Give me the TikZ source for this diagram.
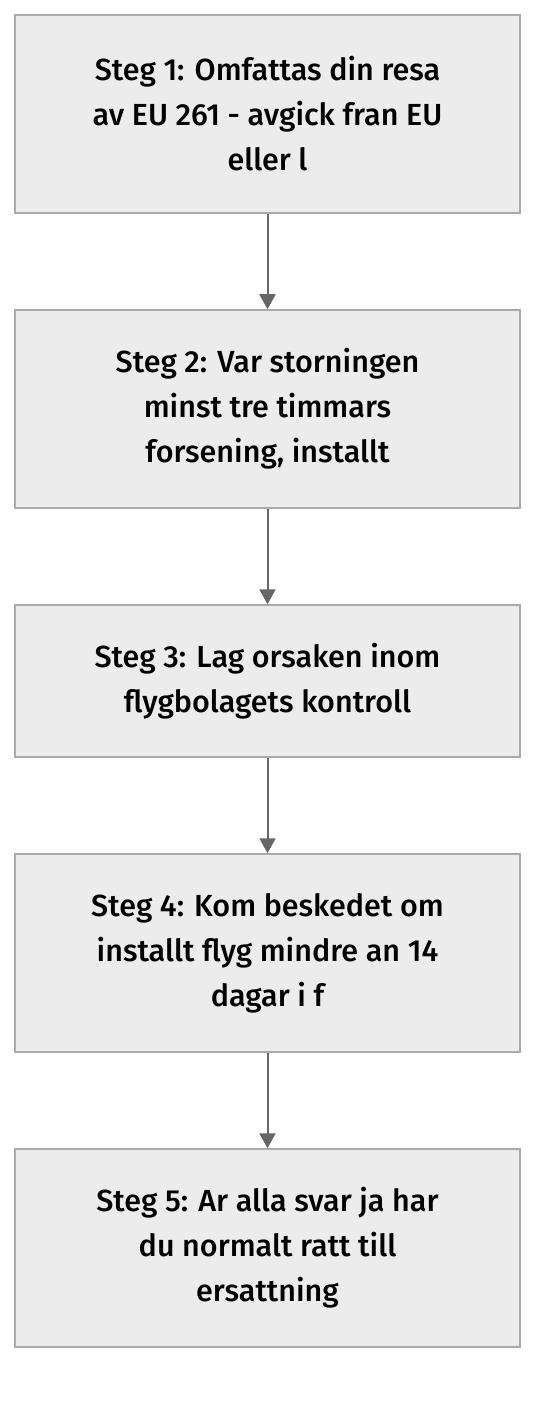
\documentclass[tikz,border=0pt]{standalone}
\usepackage{fontspec}
\setmainfont{Fira Sans}[UprightFont=* Medium]
\usetikzlibrary{arrows.meta}
\definecolor{boxfill}{HTML}{ECECEC}
\definecolor{boxline}{HTML}{AAAAAA}
\definecolor{arrowgray}{HTML}{666666}
\tikzset{
  stepbox/.style={draw=boxline, fill=boxfill, line width=1.5pt, minimum width=505pt,
    align=center, font=\fontsize{30.5}{45}\selectfont, inner sep=0pt},
  flow/.style={draw=arrowgray, line width=2pt, -{Triangle[length=15pt,width=16pt]}}
}
\begin{document}
\begin{tikzpicture}[x=1pt,y=-1pt]
    \useasboundingbox (0,0) rectangle (552,1404);
    \node[stepbox, minimum height=198pt] (s1) at (267.5,114) {Steg 1: Omfattas din resa\\av EU 261 - avgick fran EU\\eller l};
    \node[stepbox, minimum height=198pt] (s2) at (267.5,409) {Steg 2: Var storningen\\minst tre timmars\\forsening, installt};
    \node[stepbox, minimum height=152pt] (s3) at (267.5,681) {Steg 3: Lag orsaken inom\\flygbolagets kontroll};
    \node[stepbox, minimum height=198pt] (s4) at (267.5,953) {Steg 4: Kom beskedet om\\installt flyg mindre an 14\\dagar i f};
    \node[stepbox, minimum height=198pt] (s5) at (267.5,1248) {Steg 5: Ar alla svar ja har\\du normalt ratt till\\ersattning};
    \draw[flow] (s1) -- (s2);
    \draw[flow] (s2) -- (s3);
    \draw[flow] (s3) -- (s4);
    \draw[flow] (s4) -- (s5);
  \end{tikzpicture}
\end{document}
